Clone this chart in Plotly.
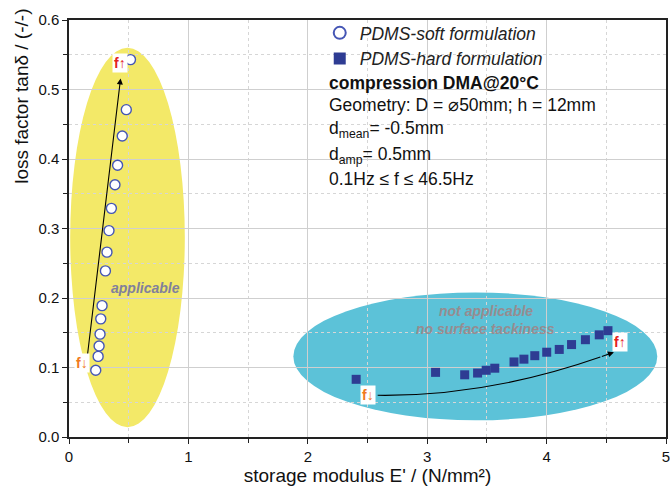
import plotly.graph_objects as go

# --- data ---
soft_E = [0.224, 0.244, 0.252, 0.260, 0.266, 0.277, 0.305, 0.318, 0.335, 0.355,
          0.385, 0.407, 0.446, 0.480, 0.515]
soft_tan = [0.096, 0.116, 0.131, 0.148, 0.170, 0.189, 0.239, 0.266, 0.297, 0.329,
            0.363, 0.391, 0.433, 0.471, 0.543]

hard_E = [2.405, 3.070, 3.314, 3.422, 3.494, 3.566, 3.727, 3.810, 3.901, 4.001,
          4.106, 4.209, 4.325, 4.441, 4.514]
hard_tan = [0.083, 0.093, 0.0895, 0.092, 0.096, 0.099, 0.108, 0.112, 0.117, 0.122,
            0.126, 0.133, 0.140, 0.147, 0.153]

soft_name = "PDMS-soft formulation"
hard_name = "PDMS-hard formulation"
x_ticks = [0, 1, 2, 3, 4, 5]
y_ticks = [0.0, 0.1, 0.2, 0.3, 0.4, 0.5, 0.6]
info_lines = [
    "<b>compression DMA@20°C</b>",
    "Geometry: D = ⌀50mm; h = 12mm",
    "d<sub>mean</sub>= -0.5mm",
    "d<sub>amp</sub>= 0.5mm",
    "0.1Hz ≤ f ≤ 46.5Hz",
]

FONT = "Liberation Sans, Arial, sans-serif"

fig = go.Figure()

fig.add_trace(go.Scatter(
    x=soft_E, y=soft_tan, mode="markers", name="<i>" + soft_name + "</i>",
    marker=dict(symbol="circle", size=10, color="white",
                line=dict(color="#4556b5", width=1.4)),
))
fig.add_trace(go.Scatter(
    x=hard_E, y=hard_tan, mode="markers", name="<i>" + hard_name + "</i>",
    marker=dict(symbol="square", size=9, color="#2e3c93",
                line=dict(width=0)),
))

shapes = [
    dict(type="circle", xref="x", yref="y", x0=0.01, x1=0.97, y0=0.014, y1=0.560,
         fillcolor="#f3e968", line=dict(width=0), layer="below"),
    dict(type="circle", xref="x", yref="y", x0=1.879, x1=4.927, y0=0.024, y1=0.208,
         fillcolor="#5cc2d8", line=dict(width=0), layer="below"),
    dict(type="path", xref="x", yref="y",
         path="M 2.585,0.060 Q 3.5,0.058 4.45,0.115",
         line=dict(color="black", width=1.1), layer="above"),
]

annotations = [
    # arrows
    dict(x=0.432, y=0.516, ax=0.152, ay=0.114, xref="x", yref="y", axref="x", ayref="y",
         text="", showarrow=True, arrowhead=2, arrowsize=1.1, arrowwidth=1.1, arrowcolor="black"),
    dict(x=4.564, y=0.122, ax=4.45, ay=0.115, xref="x", yref="y", axref="x", ayref="y",
         text="", showarrow=True, arrowhead=2, arrowsize=1.1, arrowwidth=1.1, arrowcolor="black"),
    # frequency labels
    dict(x=0.424, y=0.538, xref="x", yref="y", text="<b>f↑</b>", showarrow=False,
         font=dict(family=FONT, size=14, color="#e3201b"), bgcolor="white", borderpad=1),
    dict(x=0.106, y=0.106, xref="x", yref="y", text="<b>f↓</b>", showarrow=False,
         font=dict(family=FONT, size=14, color="#f07a1e"), bgcolor="white", borderpad=1),
    dict(x=4.614, y=0.136, xref="x", yref="y", text="<b>f↑</b>", showarrow=False,
         font=dict(family=FONT, size=14, color="#e3201b"), bgcolor="white", borderpad=1),
    dict(x=2.502, y=0.061, xref="x", yref="y", text="<b>f↓</b>", showarrow=False,
         font=dict(family=FONT, size=14, color="#f07a1e"), bgcolor="white", borderpad=1),
    # region labels
    dict(x=0.64, y=0.214, xref="x", yref="y", text="<b><i>applicable</i></b>", showarrow=False,
         font=dict(family=FONT, size=14, color="#80809c")),
    dict(x=3.49, y=0.181, xref="x", yref="y", text="<b><i>not applicable</i></b>", showarrow=False,
         font=dict(family=FONT, size=14, color="#968c90")),
    dict(x=3.49, y=0.155, xref="x", yref="y", text="<b><i>no surface tackiness</i></b>", showarrow=False,
         font=dict(family=FONT, size=14, color="#968c90")),
    # y axis title (placed near the top like the reference)
    dict(x=-0.0799, y=0.8165, xref="paper", yref="paper", text="loss factor tanδ / (-/-)",
         textangle=-90, showarrow=False, xanchor="center", yanchor="middle",
         font=dict(family=FONT, size=19, color="#111111")),
]

info_y = [0.849, 0.796, 0.738, 0.675, 0.619]
for txt, yy in zip(info_lines, info_y):
    annotations.append(dict(x=0.432, y=yy, xref="paper", yref="paper", text=txt,
                            showarrow=False, xanchor="left", yanchor="middle",
                            font=dict(family=FONT, size=17.5, color="#111111")))

fig.update_layout(
    width=670, height=494,
    margin=dict(l=69, r=0, t=20, b=57),
    paper_bgcolor="white", plot_bgcolor="white",
    font=dict(family=FONT, size=14, color="#111111"),
    shapes=shapes, annotations=annotations,
    showlegend=True,
    legend=dict(x=0.42, y=1.012, xanchor="left", yanchor="top",
                bgcolor="rgba(0,0,0,0)", font=dict(family=FONT, size=17.5, color="#222222"),
                tracegroupgap=0, itemsizing="constant"),
)

fig.update_xaxes(
    range=[0, 5], tickvals=x_ticks, ticktext=[str(v) for v in x_ticks],
    ticklabeloverflow="allow",
    showline=True, linecolor="#222222", linewidth=1.5, mirror=True,
    ticks="outside", ticklen=5, tickcolor="#222222",
    showgrid=True, gridcolor="#cfcfcf", gridwidth=1, zeroline=False,
    minor=dict(dtick=0.5, ticks="outside", ticklen=4, tickcolor="#222222",
               showgrid=True, gridcolor="#d6d6d6", griddash="dot"),
    title=dict(text="storage modulus E' / (N/mm²)", font=dict(family=FONT, size=19), standoff=4),
    tickfont=dict(family=FONT, size=15),
)
fig.update_yaxes(
    range=[0, 0.6], tickvals=y_ticks, ticktext=[f"{v:.1f}" for v in y_ticks],
    ticklabeloverflow="allow",
    showline=True, linecolor="#222222", linewidth=1.5, mirror=True,
    ticks="outside", ticklen=5, tickcolor="#222222",
    showgrid=True, gridcolor="#cfcfcf", gridwidth=1, zeroline=False,
    minor=dict(dtick=0.05, ticks="outside", ticklen=4, tickcolor="#222222",
               showgrid=True, gridcolor="#d6d6d6", griddash="dot"),
    tickfont=dict(family=FONT, size=15),
)

fig.write_html("out.html")
